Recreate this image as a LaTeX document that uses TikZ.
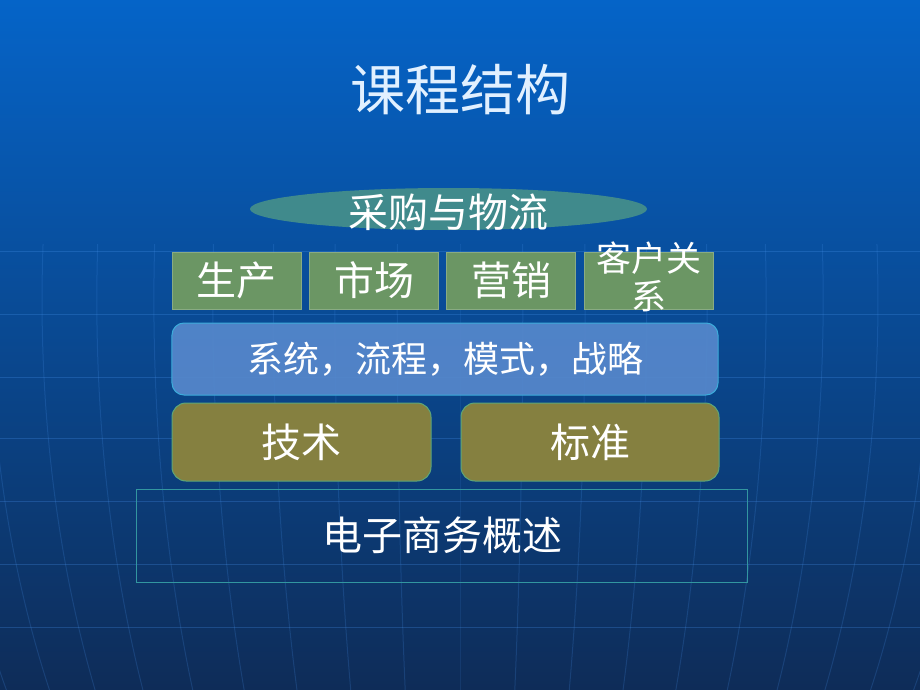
\documentclass[tikz,border=0pt]{standalone}
\usepackage{fontspec}
\setmainfont{Noto Sans CJK SC}
\usepackage{xcolor}
\usepackage{tikz}
\usetikzlibrary{shapes.geometric, positioning}
\definecolor{bgtop}{RGB}{5, 100, 200}
\definecolor{bgmid}{RGB}{10, 78, 158}
\definecolor{bgbot}{RGB}{14, 44, 88}
\definecolor{gridblue}{RGB}{70, 145, 235}
\definecolor{titlecol}{RGB}{225, 240, 255}
\definecolor{tealfill}{RGB}{64, 138, 140}
\definecolor{leaf}{RGB}{107, 150, 100}
\definecolor{skyfill}{RGB}{86, 136, 204}
\definecolor{olive}{RGB}{133, 128, 64}
\definecolor{frame}{RGB}{50, 150, 160}

\begin{document}
\begin{tikzpicture}[
    x=1bp, y=-1bp,
    node distance=8bp,
    gridline/.style={draw=gridblue, line width=1bp, opacity=#1},
    gridline/.default=0.28,
    caption/.style={text=white, font=\fontsize{#1}{#1}\selectfont, inner sep=0pt},
    module/.style={rectangle, draw=leaf!80!white, line width=0.8bp, fill=leaf, minimum width=129bp, minimum height=57bp, inner sep=0pt, text=white, font=\fontsize{40bp}{44bp}\selectfont},
    tile/.style={rectangle, rounded corners=14bp, draw=#1!70!cyan, line width=1bp, fill=#1, inner sep=0pt, text=white, font=\fontsize{40bp}{44bp}\selectfont}
]
    \fill[top color=bgtop, middle color=bgmid, bottom color=bgbot] (0,0) rectangle (920,690);
    \useasboundingbox (0,0) rectangle (920,690);

    \foreach \y in {251,314,377,438,501,564,627}
        \draw[gridline] (0,\y) -- (920,\y);
    \foreach \k in {-11,...,11}
        \draw[gridline=0.2] plot[domain=-30:4, samples=24, smooth] ({460+800*sin(\k*4.5)*cos(\x)}, {300-800*sin(\x)});

    \node[caption=55bp, text=titlecol] (title) at (460,90) {课程结构};

    \node[ellipse, fill=tealfill, minimum width=397bp, minimum height=42bp, inner sep=0pt] (purchase) at (448.5,209) {};
    \node[caption=40bp] (purchasetext) at (448.5,212) {采购与物流};

    \node[module] (production) at (236.5,280.5) {生产};
    \node[module, right=of production] (market) {市场};
    \node[module, right=7bp of market] (sales) {营销};
    \node[module, right=of sales] (crm) {};
    \node[caption=35bp, align=center] (crmtext) at ([yshift=4bp]crm.center) {客户关\\[3bp]系};

    \node[tile=skyfill, rounded corners=12bp, fill opacity=0.92, text opacity=1, minimum width=546bp, minimum height=72bp, font=\fontsize{36bp}{40bp}\selectfont] (system) at (445,359) {系统，流程，模式，战略};

    \node[tile=olive, minimum width=259bp, minimum height=78bp] (tech) at (301.5,442) {技术};
    \node[tile=olive, minimum width=258bp, minimum height=78bp, right=29bp of tech] (standard) {标准};

    \node[rectangle, draw=frame, line width=1bp, minimum width=610bp, minimum height=93bp, inner sep=0pt, text=white, font=\fontsize{40bp}{44bp}\selectfont] (overview) at (442,535.5) {电子商务概述};
\end{tikzpicture}
\end{document}
